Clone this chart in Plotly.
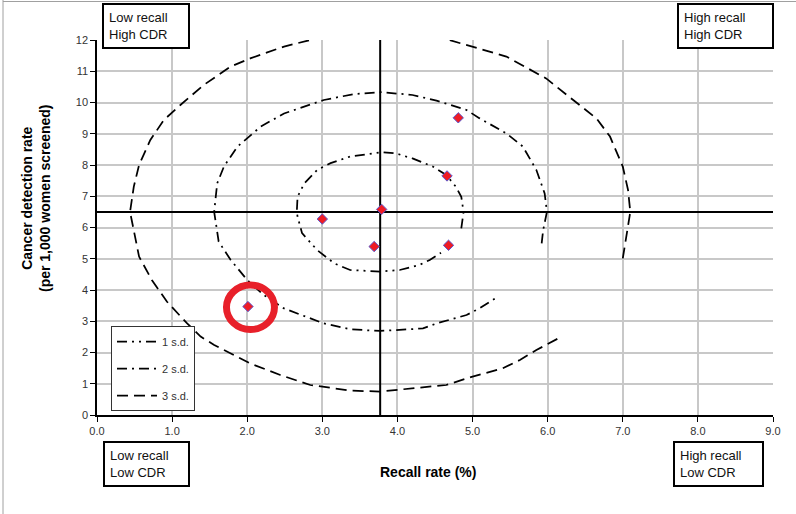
import plotly.graph_objects as go

# Screening units: recall rate (%) and cancer detection rate (per 1,000 screened)
unit_recall = [4.81, 4.66, 3.79, 3.00, 3.69, 4.68, 2.01]
unit_cdr = [9.51, 7.65, 6.58, 6.27, 5.39, 5.43, 3.47]
highlight_index = 6

# Programme means
mean_recall = 3.77
mean_cdr = 6.5

# Standard-deviation contours around the means
sd1_recall = [4.85, 4.88, 4.85, 4.78, 4.65, 4.47, 4.20, 3.98, 3.80, 3.37, 3.11, 2.93,
              2.76, 2.67, 2.66, 2.67, 2.73, 2.93, 3.16, 3.37, 3.77, 4.03, 4.29, 4.43, 4.58]
sd1_cdr = [5.97, 6.50, 6.98, 7.30, 7.68, 7.95, 8.21, 8.37, 8.41, 8.27, 8.06, 7.84,
           7.41, 6.98, 6.50, 6.35, 5.82, 5.28, 4.85, 4.64, 4.59, 4.64, 4.80, 4.96, 5.19]

sd2_recall = [5.92, 5.94, 5.99, 5.96, 5.85, 5.67, 5.45, 5.09, 4.92, 4.52, 4.20, 3.80,
              3.42, 3.02, 2.49, 2.18, 1.87, 1.69, 1.60, 1.56, 1.62, 1.78, 2.00, 2.22,
              2.49, 3.02, 3.38, 3.77, 4.34, 4.52, 4.92, 5.09, 5.34]
sd2_cdr = [5.49, 5.92, 6.50, 7.09, 7.84, 8.59, 9.01, 9.50, 9.76, 10.06, 10.24, 10.33,
           10.27, 10.08, 9.65, 9.23, 8.59, 7.95, 7.41, 6.50, 5.55, 4.96, 4.32, 3.84,
           3.41, 2.93, 2.74, 2.69, 2.77, 2.93, 3.20, 3.41, 3.79]

sd3_recall = [7.00, 7.05, 7.09, 7.10, 7.07, 7.00, 6.83, 6.65, 6.34, 5.98, 5.45, 5.00,
              4.69, 4.20, 3.77, 3.30, 2.84, 2.49, 2.04, 1.78, 1.42, 1.11, 0.89, 0.71,
              0.56, 0.49, 0.44, 0.56, 0.73, 0.93, 1.20, 1.38, 1.56, 2.04, 2.44, 2.84,
              3.38, 3.77, 4.65, 5.00, 5.40, 5.63, 5.85, 6.14]
sd3_cdr = [5.01, 5.71, 6.35, 6.50, 7.20, 7.95, 8.91, 9.49, 10.08, 10.77, 11.47, 11.79,
           12.00, 12.20, 12.25, 12.20, 12.00, 11.79, 11.41, 11.15, 10.56, 9.92, 9.44, 8.80,
           8.00, 7.31, 6.50, 5.07, 4.32, 3.63, 2.93, 2.51, 2.24, 1.65, 1.28, 0.96,
           0.78, 0.75, 0.96, 1.23, 1.49, 1.76, 2.08, 2.45]

x_ticks = [0, 1, 2, 3, 4, 5, 6, 7, 8, 9]
x_tick_labels = ["0.0", "1.0", "2.0", "3.0", "4.0", "5.0", "6.0", "7.0", "8.0", "9.0"]
y_ticks = list(range(0, 13))

contour_names = ["1 s.d.", "2 s.d.", "3 s.d."]
quadrant_labels = ["Low recall<br>High CDR", "High recall<br>High CDR",
                   "Low recall<br>Low CDR", "High recall<br>Low CDR"]

W, H = 796, 514
ML, MR, MT, MB = 97, 23, 40, 99
PW, PH = W - ML - MR, H - MT - MB


def paper_x(px):
    return (px - ML) / PW


def paper_y(py):
    return (H - MB - py) / PH


fig = go.Figure()

dashes = ["10px,5px,2px,5px,2px,5px", "10px,5px,2px,5px", "11px,6px"]
contours = [(sd1_recall, sd1_cdr), (sd2_recall, sd2_cdr), (sd3_recall, sd3_cdr)]
for name, (cx, cy), dash in zip(contour_names, contours, dashes):
    fig.add_trace(go.Scatter(
        x=cx, y=cy, mode="lines", name=name, legendgroup=name,
        line=dict(color="black", width=1.75, dash=dash),
        hoverinfo="skip",
    ))

fig.add_trace(go.Scatter(
    x=unit_recall, y=unit_cdr, mode="markers", showlegend=False,
    marker=dict(symbol="diamond", size=8, color="#ee1c25",
                line=dict(color="#5a5ad0", width=1)),
))

# Mean reference lines
fig.add_shape(type="line", xref="x", yref="y", x0=mean_recall, x1=mean_recall,
              y0=0, y1=12, line=dict(color="black", width=2), layer="between")
fig.add_shape(type="line", xref="x", yref="y", x0=0, x1=9,
              y0=mean_cdr, y1=mean_cdr, line=dict(color="black", width=2), layer="between")

# Ring around the highlighted unit
fig.add_shape(type="circle", xref="x", yref="y",
              xsizemode="pixel", ysizemode="pixel",
              xanchor=unit_recall[highlight_index], yanchor=unit_cdr[highlight_index],
              x0=-21.5, x1=26.5, y0=-23, y1=21.5,
              line=dict(color="#e8202a", width=7), layer="above")

# Chart-area frame edges (left and top)
fig.add_shape(type="line", xref="paper", yref="paper",
              x0=paper_x(3), x1=paper_x(3), y0=paper_y(0), y1=paper_y(514),
              line=dict(color="#a0a0a0", width=1), layer="above")
fig.add_shape(type="line", xref="paper", yref="paper",
              x0=paper_x(3), x1=paper_x(796), y0=paper_y(1.5), y1=paper_y(1.5),
              line=dict(color="#a0a0a0", width=1), layer="above")

box_font = dict(family="Liberation Sans, Arial, sans-serif", size=13, color="#111")
box_specs = [
    (quadrant_labels[0], 101.7, 2.7),
    (quadrant_labels[1], 676.7, 2.7),
    (quadrant_labels[2], 102.5, 441),
    (quadrant_labels[3], 672.6, 441),
]
box_widths = [74, 83, 73, 77]
for (txt, left, top), bw in zip(box_specs, box_widths):
    fig.add_annotation(
        text=txt, xref="paper", yref="paper", x=paper_x(left), y=paper_y(top),
        xanchor="left", yanchor="top", showarrow=False, align="left",
        width=bw, font=box_font, bordercolor="black", borderwidth=2,
        borderpad=5, bgcolor="white",
    )

title_font = dict(family="Liberation Sans, Arial, sans-serif", size=14, color="black")
fig.add_annotation(
    text="<b>Recall rate (%)</b>", xref="paper", yref="paper",
    x=paper_x(428), y=paper_y(472), xanchor="center", yanchor="middle",
    showarrow=False, font=title_font,
)
fig.add_annotation(
    text="<b>Cancer detection rate<br>(per 1,000 women screened)</b>",
    xref="paper", yref="paper", x=paper_x(36), y=paper_y(198),
    xanchor="center", yanchor="middle", textangle=-90, showarrow=False,
    font=title_font,
)

tick_font = dict(family="Liberation Sans, Arial, sans-serif", size=11, color="#333")
axis_common = dict(
    showgrid=True, gridcolor="#c8c8c8", gridwidth=1.5, zeroline=False,
    showline=True, linecolor="black", linewidth=1.5,
    ticks="outside", ticklen=5, tickcolor="black", tickwidth=1,
    tickfont=tick_font,
)

fig.update_layout(
    width=W, height=H,
    margin=dict(l=ML, r=MR, t=MT, b=MB),
    paper_bgcolor="white", plot_bgcolor="white",
    xaxis=dict(range=[0, 9], tickvals=x_ticks, ticktext=x_tick_labels, **axis_common),
    yaxis=dict(range=[0, 12], tickvals=y_ticks, **axis_common),
    legend=dict(
        x=paper_x(111), y=paper_y(326), xanchor="left", yanchor="top",
        bgcolor="white", bordercolor="#333", borderwidth=1,
        font=dict(family="Liberation Sans, Arial, sans-serif", size=11, color="#333"),
        tracegroupgap=8, traceorder="grouped", itemwidth=40,
    ),
    showlegend=True,
)

fig.write_html("out.html")
